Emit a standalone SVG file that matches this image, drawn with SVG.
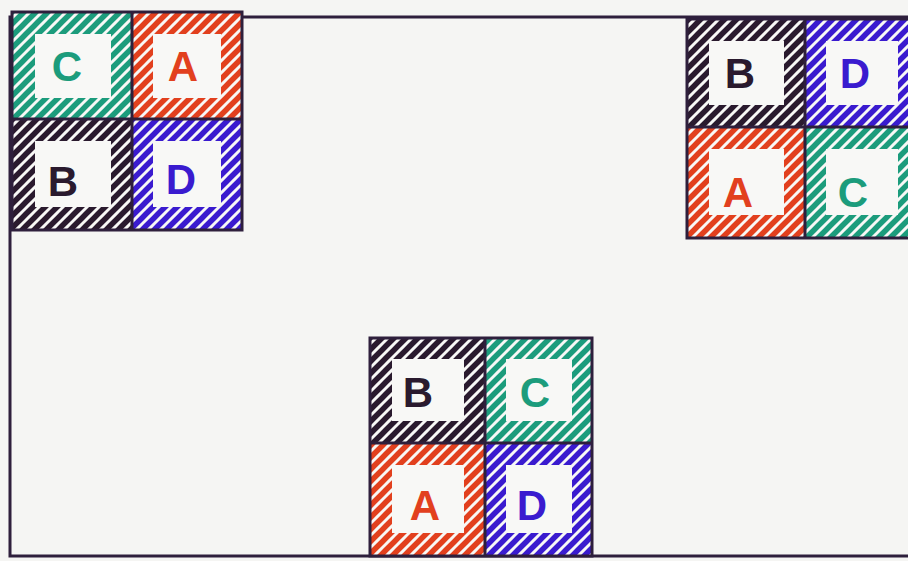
<svg xmlns="http://www.w3.org/2000/svg" width="908" height="561" viewBox="0 0 908 561">
<defs>
<style>
.ln{stroke:#2e1f3c;stroke-width:3;fill:none;stroke-linecap:square}
.t{font-family:"Liberation Sans","DejaVu Sans",sans-serif;font-size:42px;font-weight:bold;text-anchor:middle;dominant-baseline:central}
.g{fill:#1c9c7c}.r{fill:#e2401e}.b{fill:#3a1bcf}.k{fill:#2a1a2e}
</style>
<pattern id="hg" patternUnits="userSpaceOnUse" width="12" height="12"><path d="M-2,14 L14,-2 M-3,3 L3,-3 M9,15 L15,9" stroke="#1c9c7c" stroke-width="5.5"/></pattern>
<pattern id="hr" patternUnits="userSpaceOnUse" width="12" height="12"><path d="M-2,14 L14,-2 M-3,3 L3,-3 M9,15 L15,9" stroke="#e2401e" stroke-width="5.5"/></pattern>
<pattern id="hb" patternUnits="userSpaceOnUse" width="12" height="12"><path d="M-2,14 L14,-2 M-3,3 L3,-3 M9,15 L15,9" stroke="#3a1bcf" stroke-width="5.5"/></pattern>
<pattern id="hk" patternUnits="userSpaceOnUse" width="12" height="12"><path d="M-2,14 L14,-2 M-3,3 L3,-3 M9,15 L15,9" stroke="#2a1a2e" stroke-width="5.5"/></pattern>
</defs>
<rect width="908" height="561" fill="#f5f5f3"/>
<g id="frame">
<path class="ln" d="M908,17 L10,17 L10,556 L908,556"/>
</g>
<g id="grid-top-left">
<rect x="12" y="12" width="230" height="218" fill="#f8f8f6"/>
<g id="tl-C"><path fill="url(#hg)" fill-rule="evenodd" d="M12,12h120v107h-120z M35,34v64h76v-64z"/><text class="t g" x="67" y="66">C</text></g>
<g id="tl-A"><path fill="url(#hr)" fill-rule="evenodd" d="M132,12h110v107h-110z M153,34v64h68v-64z"/><text class="t r" x="183" y="66">A</text></g>
<g id="tl-B"><path fill="url(#hk)" fill-rule="evenodd" d="M12,119h120v111h-120z M35,141v66h76v-66z"/><text class="t k" x="63" y="181">B</text></g>
<g id="tl-D"><path fill="url(#hb)" fill-rule="evenodd" d="M132,119h110v111h-110z M153,141v66h68v-66z"/><text class="t b" x="181" y="179">D</text></g>
<path class="ln" d="M12,12H242V230H12Z M132,12V230 M12,119H242"/>
</g>
<g id="grid-top-right">
<rect x="687" y="19" width="225" height="219" fill="#f8f8f6"/>
<g id="tr-B"><path fill="url(#hk)" fill-rule="evenodd" d="M687,19h118v108h-118z M709,41v64h75v-64z"/><text class="t k" x="740" y="73">B</text></g>
<g id="tr-D"><path fill="url(#hb)" fill-rule="evenodd" d="M805,19h110v108h-110z M826,41v64h72v-64z"/><text class="t b" x="855" y="73">D</text></g>
<g id="tr-A"><path fill="url(#hr)" fill-rule="evenodd" d="M687,127h118v111h-118z M709,149v66h75v-66z"/><text class="t r" x="738" y="192">A</text></g>
<g id="tr-C"><path fill="url(#hg)" fill-rule="evenodd" d="M805,127h110v111h-110z M826,149v66h72v-66z"/><text class="t g" x="853" y="192">C</text></g>
<path class="ln" d="M687,19H912 M687,19V238H912 M805,19V238 M687,127H912"/>
</g>
<g id="grid-bottom">
<rect x="370" y="338" width="222" height="218" fill="#f8f8f6"/>
<g id="bt-B"><path fill="url(#hk)" fill-rule="evenodd" d="M370,338h115v105h-115z M392,359v62h72v-62z"/><text class="t k" x="418" y="392">B</text></g>
<g id="bt-C"><path fill="url(#hg)" fill-rule="evenodd" d="M485,338h107v105h-107z M506,359v62h66v-62z"/><text class="t g" x="535" y="392">C</text></g>
<g id="bt-A"><path fill="url(#hr)" fill-rule="evenodd" d="M370,443h115v113h-115z M392,465v68h72v-68z"/><text class="t r" x="425" y="505">A</text></g>
<g id="bt-D"><path fill="url(#hb)" fill-rule="evenodd" d="M485,443h107v113h-107z M506,465v68h66v-68z"/><text class="t b" x="532" y="505">D</text></g>
<path class="ln" d="M370,338H592V556H370Z M485,338V556 M370,443H592"/>
</g>
</svg>
